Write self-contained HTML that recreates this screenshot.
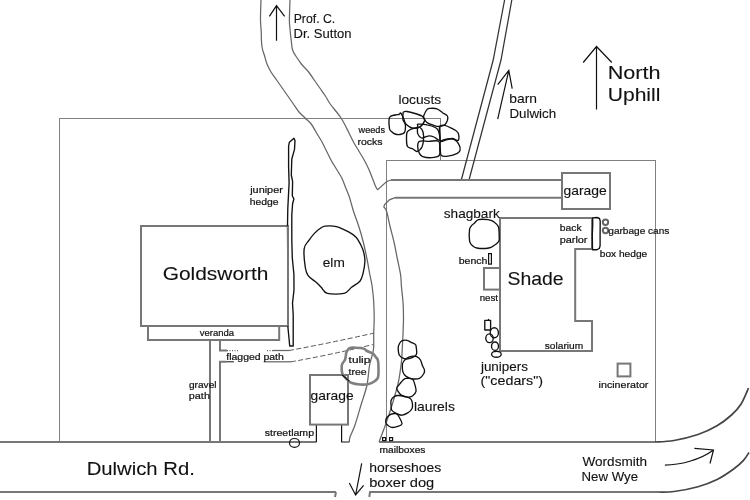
<!DOCTYPE html>
<html><head><meta charset="utf-8">
<style>
html,body{margin:0;padding:0;background:#fff;width:750px;height:500px;overflow:hidden}
svg{display:block;will-change:transform}
text{font-family:"Liberation Sans",sans-serif;fill:#111}
.t{stroke:#666;stroke-width:1.25;fill:none}
.tc{stroke:#808080;stroke-width:1;fill:none;shape-rendering:crispEdges}
.g{stroke:#777;stroke-width:2;fill:none}
.k{stroke:#111;stroke-width:1.35;fill:none;stroke-linejoin:round}
.k1{stroke:#111;stroke-width:1.2;fill:none}
</style></head>
<body>
<svg width="750" height="500" viewBox="0 0 750 500">
<path class="tc" d="M59.5 442 V118.5 H440.5 V160"/>
<path class="tc" d="M386.5 442 V160.5 H655.5 V442"/>
<path class="t" d="M261.0 0.0 C260.9 3.3 260.4 14.5 260.5 20.0 C260.6 25.5 261.2 29.7 261.3 33.0 C261.4 36.3 261.2 37.5 261.4 40.0 C261.5 42.5 261.7 45.3 262.2 48.0 C262.7 50.7 263.8 53.3 264.6 56.0 C265.4 58.7 265.9 61.3 267.0 64.0 C268.1 66.7 269.4 69.3 271.0 72.0 C272.6 74.7 274.7 77.3 276.6 80.0 C278.5 82.7 280.3 85.3 282.2 88.0 C284.1 90.7 285.9 93.3 287.8 96.0 C289.7 98.7 291.5 101.3 293.4 104.0 C295.3 106.7 297.1 109.7 299.0 112.0 C300.9 114.3 303.0 116.0 305.0 118.0 C307.0 120.0 309.3 121.5 311.2 124.0 C313.1 126.5 314.8 130.0 316.6 133.0 C318.4 136.0 320.4 139.0 322.0 142.0 C323.6 145.0 325.0 148.0 326.5 151.0 C328.0 154.0 329.4 157.0 331.0 160.0 C332.6 163.0 334.6 166.0 336.4 169.0 C338.2 172.0 340.3 175.0 341.8 178.0 C343.3 181.0 344.2 184.0 345.4 187.0 C346.6 190.0 347.9 193.0 349.0 196.0 C350.1 199.0 351.0 202.5 351.7 205.0 C352.4 207.5 352.2 207.3 353.4 211.0 C354.6 214.7 357.3 221.7 359.0 227.0 C360.7 232.3 362.2 237.7 363.5 243.0 C364.8 248.3 365.9 253.7 367.0 259.0 C368.1 264.3 369.0 270.5 369.9 275.0 C370.8 279.5 371.5 281.5 372.1 286.0 C372.7 290.5 373.4 296.7 373.7 302.0 C374.0 307.3 374.2 312.7 374.2 318.0 C374.2 323.3 373.8 328.7 373.7 334.0 C373.6 339.3 374.1 344.8 373.4 350.0 C372.7 355.2 370.7 359.2 369.6 365.0 C368.5 370.8 368.4 378.3 367.0 385.0 C365.6 391.7 363.0 398.3 361.0 405.0 C359.0 411.7 356.8 419.7 355.0 425.0 C353.2 430.3 350.9 434.2 350.0 437.0 C349.1 439.8 349.5 441.2 349.4 442.0"/>
<path class="t" d="M290.0 0.0 C289.9 3.3 289.4 15.2 289.4 20.0 C289.4 24.8 289.7 25.5 290.0 29.0 C290.3 32.5 290.9 37.8 291.3 41.0 C291.7 44.2 291.8 46.2 292.1 48.0 C292.5 49.8 292.8 50.7 293.4 52.0 C294.0 53.3 294.5 54.0 295.8 56.0 C297.1 58.0 299.3 61.3 301.4 64.0 C303.5 66.7 306.5 69.3 308.6 72.0 C310.7 74.7 312.3 77.3 314.2 80.0 C316.1 82.7 317.9 85.3 319.8 88.0 C321.7 90.7 323.7 93.3 325.4 96.0 C327.1 98.7 328.3 101.3 330.2 104.0 C332.1 106.7 334.8 109.7 336.6 112.0 C338.4 114.3 339.7 116.0 341.0 118.0 C342.3 120.0 343.2 121.5 344.5 124.0 C345.8 126.5 347.5 130.0 349.0 133.0 C350.5 136.0 351.9 139.0 353.5 142.0 C355.1 145.0 357.0 148.0 358.8 151.0 C360.6 154.0 362.6 157.0 364.2 160.0 C365.8 163.0 367.3 166.0 368.7 169.0 C370.1 172.0 371.1 175.0 372.3 178.0 C373.5 181.0 375.0 185.1 375.9 187.0 C376.8 188.9 377.4 189.2 377.7 189.6 L386.7 181.5 L391 180"/>
<path class="t" d="M395 197.7 L389.4 199.8 L384.6 204.6 L383.8 207.0 C384.2 207.7 385.4 207.7 386.5 211.0 C387.6 214.3 388.9 221.7 390.2 227.0 C391.5 232.3 393.0 237.7 394.2 243.0 C395.4 248.3 396.3 253.7 397.4 259.0 C398.5 264.3 399.9 270.5 400.6 275.0 C401.3 279.5 401.0 281.5 401.4 286.0 C401.8 290.5 402.6 296.7 403.0 302.0 C403.4 307.3 403.5 312.7 403.5 318.0 C403.5 323.3 403.2 328.7 403.0 334.0 C402.8 339.3 402.4 345.5 402.2 350.0 C401.9 354.5 402.1 355.7 401.5 361.0 C400.9 366.3 399.9 375.0 398.4 382.0 C396.9 389.0 394.8 396.0 392.7 403.0 C390.6 410.0 388.1 417.5 385.8 424.0 C383.5 430.5 380.1 439.0 379.0 442.0"/>
<path class="t" style="stroke:#333" d="M504.6 0 L493.2 60 L461.3 180"/>
<path class="t" style="stroke:#333" d="M511.8 0 L501 60 L469 180"/>
<path class="g" d="M0 442 H316.4"/>
<path class="k1" d="M316.4 424 V442"/>
<path class="k1" d="M341.6 424 V442 H349.4"/>
<path class="g" d="M379 442 H655"/>
<path class="g" style="stroke:#444;stroke-width:1.7" d="M655.0 442.0 C658.2 441.8 666.8 441.8 674.0 440.5 C681.2 439.2 690.8 436.9 698.0 434.5 C705.2 432.1 711.4 429.1 717.0 425.8 C722.6 422.6 727.5 418.6 731.5 415.0 C735.5 411.4 738.3 408.5 741.1 404.0 C743.9 399.5 747.3 390.7 748.5 388.0"/>
<path class="g" d="M0 492 H336 M336 492 L335 497 M369.3 497 L370 492 H655"/>
<path class="g" style="stroke:#444;stroke-width:1.7" d="M655.0 492.0 C658.2 491.9 666.8 492.4 674.0 491.5 C681.2 490.6 690.8 488.7 698.0 486.7 C705.2 484.7 711.1 482.5 717.1 479.5 C723.1 476.5 729.6 471.9 734.0 468.7 C738.4 465.5 741.0 463.0 743.5 460.3 C746.0 457.6 748.1 453.8 749.0 452.5"/>
<path class="g" d="M391 180 H562"/>
<path class="g" d="M395 197.7 H562"/>
<rect class="g" x="562" y="173" width="48" height="36"/>
<path class="g" d="M500 218 H592 V249 H575.2 V321 H592 V351 H500 Z"/>
<rect class="g" x="484" y="268" width="16" height="21.6"/>
<rect class="g" x="617.6" y="363.6" width="12.8" height="12.8"/>
<rect class="g" x="141" y="226" width="147" height="100"/>
<rect class="g" x="148" y="326" width="131.2" height="14"/>
<path class="g" d="M210 340 V442"/>
<path class="g" d="M220 340 V350.5 H227"/>
<path class="g" d="M220 442 V361.8 H226"/>
<path class="k1" style="stroke-width:1" d="M226 361.8 H234"/>
<path class="t" stroke-dasharray="1 1.5" d="M227 350.5 H239"/>
<path class="t" stroke-dasharray="1 1.5" d="M267 350.5 H273"/>
<path class="t" d="M273 350.5 H289"/>
<path class="t" d="M263.7 361.8 H291"/>
<path class="t" style="stroke:#555;stroke-width:1" stroke-dasharray="5 2.5" d="M289 350.5 Q330 343 373.4 333.2"/>
<path class="t" style="stroke:#555;stroke-width:1" stroke-dasharray="5 2.5" d="M291 361.8 Q330 355 373.4 344.4"/>
<rect class="g" x="310" y="375" width="38" height="49.6"/>
<ellipse class="k1" cx="294.5" cy="442.9" rx="5" ry="4.4"/>
<rect class="k1" x="382.6" y="437.6" width="3" height="3"/>
<rect class="k1" x="389.6" y="437.6" width="3" height="3"/>
<path class="k1" d="M276.5 5.6 V40.7 M269.4 16.4 L276.5 5.6 L284.6 16.4"/>
<path class="k1" d="M596.5 46.5 V109.5 M583.2 62.5 L596.5 46.5 L611.8 62.5"/>
<path class="k1" d="M508.8 70.4 L497.7 119.2 M497.7 84.7 L508.8 70.4 L512.2 88.6"/>
<path class="k1" d="M361.7 463.3 L355.6 495 M349.3 483 L355.6 495 L363.6 485.3"/>
<path class="k1" d="M664.9 465.1 C680 465 700 460 713.5 450 M694.4 448.3 L713.5 450 L710 463.5"/>
<path class="k" d="M293.9 138.2 L295.0 140.6 L294.5 149.4 L291.8 159.0 L291.3 175.0 L292.6 181.4 L292.3 195.8 L293.9 199.0 L292.6 203.8 L291.8 215.0 L291.8 240.0 L292.3 258.0 L293.9 274.0 L294.0 290.0 L292.5 303.2 L293.2 314.4 L293.2 346.0 L289.7 346.0 L289.0 338.2 L287.9 327.0 L288.0 300.0 L287.5 226.0 L287.8 208.6 L289.1 183.0 L288.6 167.0 L288.6 146.2 L289.4 142.2 Z"/>
<path class="g" d="M288 226 V326"/>
<path class="k" d="M319.7 228.8 C321.5 227.6 322.2 226.6 325.0 226.2 C327.8 225.8 332.5 225.6 336.4 226.6 C340.3 227.6 345.3 230.1 348.6 231.9 C351.9 233.7 354.1 235.0 356.1 237.2 C358.1 239.3 359.4 242.3 360.7 244.8 C362.0 247.3 363.0 249.5 363.7 252.3 C364.4 255.1 365.0 257.9 364.9 261.5 C364.8 265.1 363.8 270.3 363.0 273.6 C362.2 276.9 361.8 278.9 359.9 281.2 C358.0 283.5 354.2 285.3 351.6 287.3 C349.0 289.3 348.1 292.3 344.0 293.3 C339.9 294.3 331.1 294.3 327.3 293.3 C323.5 292.3 323.0 289.1 321.2 287.3 C319.4 285.5 318.8 284.6 316.7 282.7 C314.6 280.8 310.2 278.4 308.3 275.9 C306.4 273.4 306.0 272.1 305.3 267.5 C304.6 262.9 303.6 253.2 304.2 248.6 C304.8 244.0 307.4 242.7 309.1 240.2 C310.8 237.7 312.6 235.3 314.4 233.4 C316.2 231.5 317.9 230.0 319.7 228.8 Z"/>
<path class="k" d="M478.4 219.6 C480.7 219.0 485.5 219.3 488.0 219.6 C490.5 219.9 491.9 220.4 493.6 221.6 C495.3 222.8 497.5 224.3 498.4 226.8 C499.3 229.3 499.1 234.0 499.2 236.4 C499.3 238.8 499.6 239.7 498.8 241.2 C498.0 242.7 496.1 244.1 494.4 245.2 C492.7 246.3 491.7 247.5 488.8 248.0 C485.9 248.5 479.6 248.5 476.8 248.0 C474.0 247.5 473.2 246.3 472.0 245.2 C470.8 244.1 470.0 243.9 469.6 241.2 C469.2 238.5 469.2 231.9 469.6 229.2 C470.0 226.5 471.2 226.2 472.0 225.2 C472.8 224.2 473.3 224.1 474.4 223.2 C475.5 222.3 476.1 220.2 478.4 219.6 Z"/>
<path class="k" d="M592.7 217.8 L597.0 217.5 L599.5 218.5 L600.2 221.0 L600.1 235.0 L600.1 245.8 L599.3 248.5 L597.0 249.7 L592.5 249.7 L592.3 235.0 L592.7 225.0 Z"/>
<circle class="g" cx="605.5" cy="222.3" r="2.7" style="stroke-width:2;stroke:#666"/>
<circle class="g" cx="605.5" cy="230.5" r="2.7" style="stroke-width:2;stroke:#666"/>
<rect class="k1" x="488.6" y="253.6" width="2.8" height="10.5"/>
<path class="g" style="stroke-width:2.6;stroke:#808080" d="M346.4 352.4 C347.0 351.2 347.9 349.0 349.4 348.2 C350.9 347.4 353.2 347.7 355.6 347.7 C358.0 347.7 361.6 347.8 363.5 348.4 C365.4 348.9 365.5 350.2 367.0 351.0 C368.5 351.8 370.8 352.2 372.3 353.2 C373.8 354.2 374.9 355.9 375.9 357.2 C376.8 358.4 377.6 358.5 378.0 360.7 C378.4 362.9 378.5 367.6 378.5 370.4 C378.5 373.2 378.6 375.7 378.0 377.5 C377.4 379.3 376.5 379.9 375.0 381.0 C373.5 382.1 371.3 383.4 368.8 384.0 C366.3 384.6 362.9 384.7 360.0 384.5 C357.1 384.3 353.4 383.6 351.2 382.7 C349.0 381.8 348.3 380.7 346.8 379.2 C345.3 377.7 343.2 376.1 342.4 373.9 C341.5 371.7 341.6 367.8 341.7 366.0 C341.8 364.2 342.2 363.9 342.8 362.9 C343.4 361.9 344.5 361.1 345.0 359.8 C345.5 358.6 345.7 356.6 345.9 355.4 C346.1 354.2 345.8 353.6 346.4 352.4 Z"/>
<path class="k1" d="M342 374.8 L349.4 381.4"/>
<g class="k"><path d="M389.5 117.5 C390.4 115.2 393.4 115.5 395.0 115.0 C396.6 114.5 398.1 114.8 399.0 114.5 C399.9 114.2 399.9 112.8 400.5 113.0 C401.1 113.2 401.8 114.7 402.5 116.0 C403.2 117.3 404.0 119.2 404.5 121.0 C405.0 122.8 405.5 124.6 405.5 126.5 C405.5 128.4 405.4 131.2 404.5 132.5 C403.6 133.8 401.6 134.2 400.0 134.5 C398.4 134.8 396.4 134.5 395.0 134.0 C393.6 133.5 392.4 132.4 391.5 131.5 C390.6 130.6 389.8 130.8 389.5 128.5 C389.2 126.2 388.6 119.8 389.5 117.5 Z"/><path d="M403.5 112.0 C404.2 111.5 405.1 111.2 407.0 111.5 C408.9 111.8 412.4 112.7 415.0 113.5 C417.6 114.3 420.9 115.2 422.5 116.5 C424.1 117.8 425.1 119.2 424.5 121.0 C423.9 122.8 421.1 126.3 419.0 127.5 C416.9 128.7 414.1 128.5 412.0 128.0 C409.9 127.5 408.0 125.8 406.5 124.5 C405.0 123.2 403.6 121.7 403.0 120.0 C402.4 118.3 402.9 115.8 403.0 114.5 C403.1 113.2 402.8 112.5 403.5 112.0 Z"/><path d="M427.1 109.4 C428.2 108.2 428.8 108.4 430.4 108.3 C432.0 108.2 435.0 108.1 437.0 108.8 C439.0 109.5 440.8 111.5 442.5 112.7 C444.2 113.9 446.6 114.7 447.4 116.0 C448.2 117.3 447.9 118.9 447.4 120.4 C446.8 122.0 445.6 124.3 444.1 125.3 C442.6 126.3 440.3 126.4 438.6 126.4 C436.9 126.4 435.6 125.9 433.7 125.3 C431.8 124.7 428.8 123.8 427.1 122.6 C425.5 121.4 424.4 119.4 423.8 118.2 C423.2 117.0 423.2 116.9 423.8 115.4 C424.4 113.9 426.0 110.6 427.1 109.4 Z"/><path d="M418.3 124.2 C419.9 124.0 424.3 124.2 427.1 124.8 C429.9 125.3 433.4 126.4 435.3 127.5 C437.2 128.6 437.9 129.3 438.6 131.4 C439.3 133.5 440.5 139.3 439.7 140.2 C438.9 141.1 435.7 137.7 434.0 137.0 C432.3 136.3 430.8 135.8 429.3 135.8 C427.8 135.8 426.3 136.6 425.0 137.0 C423.7 137.4 422.8 138.6 421.6 138.0 C420.4 137.4 418.4 135.6 417.7 133.6 C417.0 131.6 417.6 127.5 417.7 125.9 C417.8 124.3 416.7 124.4 418.3 124.2 Z"/><path d="M409.5 130.0 C410.8 129.2 413.2 128.4 415.0 128.0 C416.8 127.6 418.7 126.8 420.0 127.5 C421.3 128.2 422.4 129.9 423.0 132.0 C423.6 134.1 423.7 137.5 423.5 140.0 C423.3 142.5 423.1 145.1 422.0 147.0 C420.9 148.9 418.5 151.2 417.0 151.5 C415.5 151.8 414.6 149.8 413.0 149.0 C411.4 148.2 408.6 148.2 407.5 146.5 C406.4 144.8 406.6 141.3 406.5 139.0 C406.4 136.7 406.5 134.0 407.0 132.5 C407.5 131.0 408.2 130.8 409.5 130.0 Z"/><path d="M439.7 126.4 C440.5 125.0 442.8 125.0 444.7 125.3 C446.6 125.6 449.1 126.9 451.3 128.1 C453.5 129.3 456.7 130.5 457.9 132.5 C459.1 134.5 459.3 139.2 458.4 140.2 C457.5 141.2 454.3 138.6 452.4 138.5 C450.5 138.4 448.8 139.1 446.9 139.6 C445.0 140.1 442.0 142.3 440.8 141.3 C439.6 140.3 439.9 136.1 439.7 133.6 C439.5 131.1 438.9 127.8 439.7 126.4 Z"/><path d="M419.4 141.3 C421.3 140.4 425.8 141.3 429.0 141.3 C432.2 141.3 436.8 140.0 438.6 141.3 C440.4 142.6 439.6 146.6 439.7 149.0 C439.8 151.4 440.6 154.1 439.2 155.5 C437.8 156.9 434.2 157.5 431.5 157.7 C428.8 157.9 424.7 157.3 422.7 156.6 C420.7 155.9 420.2 155.0 419.4 153.4 C418.6 151.8 417.7 148.8 417.7 146.8 C417.7 144.8 417.5 142.2 419.4 141.3 Z"/><path d="M440.3 141.8 C441.6 140.1 445.6 139.4 448.0 139.0 C450.4 138.6 452.8 138.7 454.6 139.6 C456.4 140.5 458.1 142.8 459.0 144.6 C459.9 146.3 460.4 148.6 460.1 150.1 C459.8 151.6 459.3 152.4 457.3 153.4 C455.3 154.4 450.6 155.8 448.0 156.1 C445.4 156.4 442.7 156.7 441.4 155.5 C440.1 154.3 440.5 151.3 440.3 149.0 C440.1 146.7 439.0 143.5 440.3 141.8 Z"/></g>
<g class="k">
<path d="M484.8 320.3 H488 L488.5 319.5 L489 320.3 H490.6 V330 H484.8 Z"/>
<ellipse cx="494.3" cy="332.7" rx="4.1" ry="5"/>
<ellipse cx="489.5" cy="338.2" rx="3.7" ry="4.4"/>
<ellipse cx="495" cy="346.2" rx="3.5" ry="4.2"/>
<ellipse cx="496.4" cy="354.2" rx="4.8" ry="3"/>
</g>
<g class="k"><path d="M401.8 340.8 C402.7 340.4 405.9 340.1 407.1 340.3 C408.3 340.5 410.9 342.2 411.9 342.7 C412.9 343.2 415.1 343.5 415.7 344.7 C416.3 345.9 416.8 352.0 416.7 353.3 C416.6 354.6 415.7 355.6 414.8 356.2 C413.9 356.8 410.2 358.3 409.0 358.6 C407.8 358.9 405.3 359.0 404.2 358.6 C403.1 358.2 400.1 356.5 399.4 355.2 C398.7 353.9 398.2 348.8 398.2 347.5 C398.2 346.2 399.0 344.5 399.4 343.7 C399.8 342.9 400.9 341.2 401.8 340.8 Z"/><path d="M407.1 358.1 C408.2 357.4 411.7 356.4 412.8 356.2 C413.9 356.0 415.8 356.3 416.7 356.7 C417.6 357.1 419.8 358.9 420.5 360.0 C421.2 361.1 422.0 364.7 422.5 365.8 C423.0 366.9 424.2 368.8 424.4 369.7 C424.6 370.6 424.5 372.5 423.9 373.5 C423.3 374.5 421.0 377.7 419.6 378.3 C418.2 378.9 413.5 379.0 411.9 378.8 C410.3 378.6 407.2 377.2 406.1 376.4 C405.0 375.6 403.2 372.8 402.8 371.6 C402.4 370.4 402.3 366.9 402.3 365.8 C402.3 364.7 402.6 362.9 403.2 362.0 C403.8 361.1 406.0 358.8 407.1 358.1 Z"/><path d="M404.9 378.6 C406.3 378.1 411.3 378.5 412.5 379.2 C413.7 379.9 414.4 383.0 414.8 384.4 C415.2 385.8 416.3 390.0 416.0 391.4 C415.7 392.8 413.5 395.3 412.5 396.0 C411.5 396.7 409.2 397.3 407.8 397.2 C406.4 397.1 402.1 395.7 400.9 394.9 C399.7 394.1 397.9 391.0 397.4 390.2 C396.9 389.4 396.5 388.7 396.8 387.9 C397.1 387.1 399.4 384.4 400.3 383.3 C401.2 382.2 403.5 379.1 404.9 378.6 Z"/><path d="M393.3 397.2 C394.0 396.6 396.0 395.6 397.4 395.5 C398.8 395.4 403.9 396.2 405.5 396.6 C407.1 397.0 409.9 398.0 410.7 398.9 C411.5 399.8 412.4 403.0 412.5 404.2 C412.6 405.4 412.4 407.8 411.9 408.8 C411.4 409.8 409.0 412.2 407.8 412.9 C406.6 413.6 403.4 415.1 402.0 415.2 C400.6 415.3 397.4 414.0 396.2 413.4 C395.0 412.8 392.2 411.1 391.6 410.0 C391.0 408.9 391.1 405.3 391.0 404.2 C390.9 403.1 390.7 401.5 391.0 400.7 C391.3 399.9 392.6 397.8 393.3 397.2 Z"/><path d="M391.6 414.0 C392.6 413.7 395.8 413.4 396.8 414.0 C397.8 414.6 399.7 418.0 400.3 419.2 C400.9 420.4 402.2 423.1 402.0 423.9 C401.8 424.7 399.8 425.8 398.6 426.2 C397.4 426.6 393.0 427.7 391.6 427.4 C390.2 427.1 387.1 424.8 386.4 423.9 C385.7 423.0 385.6 420.7 385.8 419.8 C386.0 418.9 387.4 417.0 388.1 416.3 C388.8 415.6 390.6 414.3 391.6 414.0 Z"/></g>
<!-- texts -->
<text transform="translate(293.63 22.9) scale(0.968 1)" font-size="12.7" stroke="#111" stroke-width="0.12">Prof. C.</text>
<text transform="translate(293.57 37.5) scale(1.027 1)" font-size="12.7" stroke="#111" stroke-width="0.12">Dr. Sutton</text>
<text transform="translate(398.38 103.8) scale(1.020 1)" font-size="13.5" stroke="#111" stroke-width="0.12">locusts</text>
<text transform="translate(509.37 102.8) scale(1.032 1)" font-size="13.4" stroke="#111" stroke-width="0.12">barn</text>
<text transform="translate(509.40 117.8) scale(0.996 1)" font-size="13.4" stroke="#111" stroke-width="0.12">Dulwich</text>
<text transform="translate(607.65 78.8) scale(1.145 1)" font-size="18.9" stroke="#111" stroke-width="0.1">North</text>
<text transform="translate(607.68 100.5) scale(1.116 1)" font-size="18.9" stroke="#111" stroke-width="0.1">Uphill</text>
<text transform="translate(358.60 132.8) scale(1.015 1)" font-size="9.0" stroke="#111" stroke-width="0.2">weeds</text>
<text transform="translate(357.43 144.8) scale(1.170 1)" font-size="9.0" stroke="#111" stroke-width="0.2">rocks</text>
<text transform="translate(250.20 192.7) scale(1.235 1)" font-size="8.8" stroke="#111" stroke-width="0.2">juniper</text>
<text transform="translate(249.72 204.7) scale(1.178 1)" font-size="8.8" stroke="#111" stroke-width="0.2">hedge</text>
<text transform="translate(563.46 194.7) scale(1.040 1)" font-size="13.4" stroke="#111" stroke-width="0.12">garage</text>
<text transform="translate(443.79 217.6) scale(1.015 1)" font-size="13.4" stroke="#111" stroke-width="0.12">shagbark</text>
<text transform="translate(559.72 230.7) scale(1.176 1)" font-size="8.8" stroke="#111" stroke-width="0.2">back</text>
<text transform="translate(559.66 242.7) scale(1.238 1)" font-size="8.8" stroke="#111" stroke-width="0.2">parlor</text>
<text transform="translate(608.30 234.2) scale(1.120 1)" font-size="9.0" stroke="#111" stroke-width="0.2">garbage cans</text>
<text transform="translate(599.75 256.6) scale(1.155 1)" font-size="8.8" stroke="#111" stroke-width="0.2">box hedge</text>
<text transform="translate(458.70 263.7) scale(1.200 1)" font-size="8.8" stroke="#111" stroke-width="0.2">bench</text>
<text transform="translate(507.49 284.7) scale(1.011 1)" font-size="19.2" stroke="#111" stroke-width="0.1">Shade</text>
<text transform="translate(479.70 300.5) scale(1.100 1)" font-size="8.8" stroke="#111" stroke-width="0.2">nest</text>
<text transform="translate(544.80 348.6) scale(1.129 1)" font-size="9.0" stroke="#111" stroke-width="0.2">solarium</text>
<text transform="translate(480.90 370.8) scale(1.004 1)" font-size="13.4" stroke="#111" stroke-width="0.12">junipers</text>
<text transform="translate(480.53 385.4) scale(1.067 1)" font-size="13.4" stroke="#111" stroke-width="0.12">(&quot;cedars&quot;)</text>
<text transform="translate(598.61 388.4) scale(1.185 1)" font-size="9.0" stroke="#111" stroke-width="0.2">incinerator</text>
<text transform="translate(162.71 280.3) scale(1.089 1)" font-size="19.2" stroke="#111" stroke-width="0.1">Goldsworth</text>
<text transform="translate(322.78 266.6) scale(1.020 1)" font-size="13.4" stroke="#111" stroke-width="0.12">elm</text>
<text transform="translate(199.70 335.7) scale(1.081 1)" font-size="8.8" stroke="#111" stroke-width="0.2">veranda</text>
<text transform="translate(226.30 360.2) scale(1.188 1)" font-size="8.8" stroke="#111" stroke-width="0.2">flagged path</text>
<text transform="translate(348.60 362.6) scale(1.319 1)" font-size="9.0" stroke="#111" stroke-width="0.2">tulip</text>
<text transform="translate(348.60 374.7) scale(1.167 1)" font-size="9.0" stroke="#111" stroke-width="0.2">tree</text>
<text transform="translate(310.56 400.0) scale(1.035 1)" font-size="13.4" stroke="#111" stroke-width="0.12">garage</text>
<text transform="translate(189.00 387.7) scale(1.125 1)" font-size="9.0" stroke="#111" stroke-width="0.2">gravel</text>
<text transform="translate(188.79 399.3) scale(1.206 1)" font-size="9.0" stroke="#111" stroke-width="0.2">path</text>
<text transform="translate(413.96 411.0) scale(1.037 1)" font-size="13.4" stroke="#111" stroke-width="0.12">laurels</text>
<text transform="translate(264.80 435.9) scale(1.200 1)" font-size="8.8" stroke="#111" stroke-width="0.2">streetlamp</text>
<text transform="translate(379.47 452.9) scale(1.231 1)" font-size="8.3" stroke="#111" stroke-width="0.2">mailboxes</text>
<text transform="translate(369.26 472.0) scale(1.040 1)" font-size="13.4" stroke="#111" stroke-width="0.12">horseshoes</text>
<text transform="translate(369.21 486.7) scale(1.093 1)" font-size="13.4" stroke="#111" stroke-width="0.12">boxer dog</text>
<text transform="translate(86.64 475.0) scale(1.062 1)" font-size="19.1" stroke="#111" stroke-width="0.1">Dulwich Rd.</text>
<text transform="translate(582.50 465.6) scale(1.013 1)" font-size="13.4" stroke="#111" stroke-width="0.12">Wordsmith</text>
<text transform="translate(581.51 480.5) scale(0.989 1)" font-size="13.4" stroke="#111" stroke-width="0.12">New Wye</text>
</svg>
</body></html>
